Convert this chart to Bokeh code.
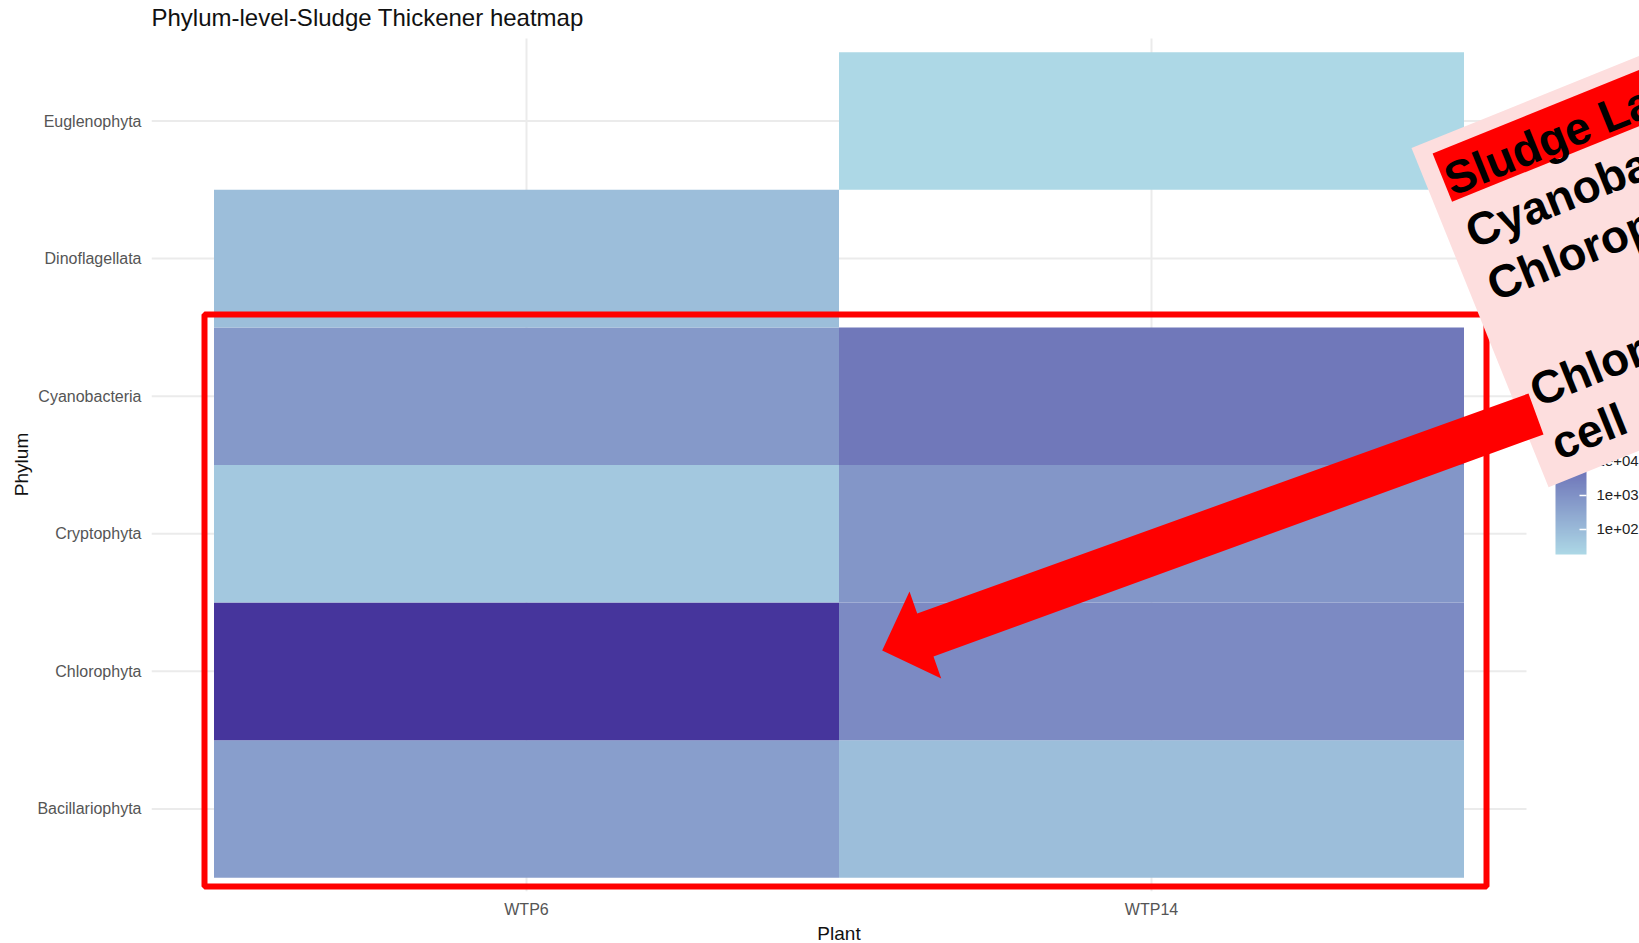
import math
from bokeh.plotting import figure
from bokeh.models import (Range1d, LogColorMapper, ColorBar, FixedTicker,
                          PolyAnnotation, Label, ColumnDataSource, Title)
from bokeh.embed import file_html
from bokeh.resources import INLINE

# ---------------- data ----------------
plants = ["WTP6", "WTP14"]
phyla = ["Bacillariophyta", "Chlorophyta", "Cryptophyta",
         "Cyanobacteria", "Dinoflagellata", "Euglenophyta"]

cell_plant = ["WTP6", "WTP14", "WTP6", "WTP14", "WTP6",
              "WTP14", "WTP6", "WTP14", "WTP6", "WTP14"]
cell_phylum = ["Bacillariophyta", "Bacillariophyta", "Chlorophyta", "Chlorophyta",
               "Cryptophyta", "Cryptophyta", "Cyanobacteria", "Cyanobacteria",
               "Dinoflagellata", "Euglenophyta"]
cell_count = [500, 80, 190000, 1520, 45, 800, 660, 4250, 80, 18]

legend_ticks = [100, 1000, 10000, 100000]
legend_labels = ["1e+02", "1e+03", "1e+04", "1e+05"]

title_text = "Phylum-level-Sludge Thickener heatmap"
x_title = "Plant"
y_title = "Phylum"
note_lines = ["Sludge Lagoon", "Cyanobacteria and", "Chlorophyta dominate", "",
              "Chlorophyta highest", "cell"]

# ---------------- layout / style ----------------
W, H = 1639, 943
FL, FB = 151, 892                 # frame left / bottom (page px); frame runs to right & top edges
PANEL_R, PANEL_T = 1526, 38       # heatmap panel right / top edges (page px)
PANEL_X = (-0.1, len(plants) + 0.1)   # panel limits (0.6 expansion round the factors)
PANEL_Y = (-0.1, len(phyla) + 0.1)
x_end = PANEL_X[1] + (W - PANEL_R) * (PANEL_X[1] - PANEL_X[0]) / (PANEL_R - FL)
y_end = PANEL_Y[1] + PANEL_T * (PANEL_Y[1] - PANEL_Y[0]) / (FB - PANEL_T)

LOW_C, HIGH_C = (173, 216, 230), (70, 53, 156)
pal = ["#%02x%02x%02x" % tuple(int(round(a + (b - a) * i / 255)) for a, b in zip(LOW_C, HIGH_C))
       for i in range(256)]
FONT = "Liberation Sans"
GRID = "#EBEBEB"

mapper = LogColorMapper(palette=pal, low=min(cell_count), high=max(cell_count))
src = ColumnDataSource(dict(xpos=[plants.index(v) + 0.5 for v in cell_plant],
                            ypos=[phyla.index(v) + 0.5 for v in cell_phylum],
                            plant=cell_plant, phylum=cell_phylum, count=cell_count))

p = figure(x_range=Range1d(PANEL_X[0], x_end), y_range=Range1d(PANEL_Y[0], y_end),
           title=None, width=W, height=H, output_backend="svg", toolbar_location=None,
           min_border_left=FL, min_border_right=0, min_border_top=0, min_border_bottom=H - FB)

# grid lines, limited to the heatmap panel
p.xgrid.visible = False
p.ygrid.visible = False
xc = [i + 0.5 for i in range(len(plants))]
yc = [i + 0.5 for i in range(len(phyla))]
p.segment(x0=PANEL_X[0], x1=PANEL_X[1], y0=yc, y1=yc,
          line_color=GRID, line_width=2, level="underlay")
p.segment(x0=xc, x1=xc, y0=PANEL_Y[0], y1=PANEL_Y[1],
          line_color=GRID, line_width=2, level="underlay")

p.rect(x="xpos", y="ypos", width=1, height=1, source=src,
       fill_color={"field": "count", "transform": mapper}, line_color=None)

p.xaxis.ticker = FixedTicker(ticks=xc)
p.xaxis.major_label_overrides = {c: v for c, v in zip(xc, plants)}
p.yaxis.ticker = FixedTicker(ticks=yc)
p.yaxis.major_label_overrides = {c: v for c, v in zip(yc, phyla)}

for ax in (p.xaxis[0], p.yaxis[0]):
    ax.axis_line_color = None
    ax.major_tick_line_color = None
    ax.minor_tick_line_color = None
    ax.major_tick_out = 0
    ax.major_tick_in = 0
    ax.major_label_text_font = FONT
    ax.major_label_text_font_size = "16px"
    ax.major_label_text_color = "#555555"
    ax.axis_label_standoff = 0
p.xaxis.major_label_standoff = 9
p.xaxis.major_label_text_line_height = 0.9
p.yaxis.major_label_standoff = 10

# axis titles centred on the heatmap panel (not on the wider frame)
x_title_px = 43.3
p.add_layout(Title(text=x_title, align="left",
                   offset=(FL + PANEL_R) / 2 - FL - x_title_px / 2,
                   text_font=FONT, text_font_size="19px", text_font_style="normal",
                   text_color="#111111", standoff=0, text_line_height=1.0), "below")
y_title_px = 63.3
p.add_layout(Title(text=y_title, align="left",
                   offset=FB - (PANEL_T + FB) / 2 - y_title_px / 2,
                   text_font=FONT, text_font_size="19px", text_font_style="normal",
                   text_color="#111111", standoff=5), "left")

p.outline_line_color = None

# ---------------- colour bar ----------------
cb = ColorBar(color_mapper=mapper, ticker=FixedTicker(ticks=legend_ticks),
              major_label_overrides=dict(zip(legend_ticks, legend_labels)),
              location=(1555 - FL, FB - 555), width=31, height=137, padding=0,
              label_standoff=10, major_tick_in=7, major_tick_out=0,
              major_tick_line_color="white", major_tick_line_width=1.5,
              bar_line_color=None, border_line_color=None, background_fill_alpha=0,
              major_label_text_font=FONT, major_label_text_font_size="15px",
              major_label_text_color="#222222")
p.add_layout(cb)

# ---------------- texts and overlay (page pixels -> frame screen units) ----------------
def sx(X):
    return X - FL

def sy(Y):
    return FB - Y

p.add_layout(Label(x=sx(151), y=sy(17.5), x_units="screen", y_units="screen",
                   text=title_text, text_font=FONT, text_font_size="24px",
                   text_color="#111111", text_align="left", text_baseline="alphabetic"))

def poly(pts, **kw):
    return PolyAnnotation(xs=[sx(a) for a, b in pts], ys=[sy(b) for a, b in pts],
                          xs_units="screen", ys_units="screen", **kw)

# red highlight rectangle
rect_pts = [(204, 315), (1486, 315), (1486, 887), (204, 887)]
p.add_layout(poly(rect_pts, fill_alpha=0, line_color="#FF0000", line_alpha=1, line_width=6))

# rotated pink note
th = math.radians(22)
u = (math.cos(th), -math.sin(th))
n = (math.sin(th), math.cos(th))
A = (1411.0, 148.5)

def at(al, nd):
    return (A[0] + al * u[0] + nd * n[0], A[1] + al * u[1] + nd * n[1])

p.add_layout(poly([at(0, 0), at(800, 0), at(800, 366), at(0, 366)],
                  fill_color="#FDDEDE", fill_alpha=1, line_color=None))
p.add_layout(poly([at(17.5, 13), at(800, 13), at(800, 65), at(17.5, 65)],
                  fill_color="#FF0000", fill_alpha=1, line_color=None))

# red arrow
arrow_pts = [(881.7, 651), (909, 592), (916.7, 614), (1528, 394),
             (1543, 435), (933, 657), (940.7, 679)]
p.add_layout(poly(arrow_pts, fill_color="#FF0000", fill_alpha=1, line_color=None))

for k, line in enumerate(note_lines):
    if not line:
        continue
    X, Y = at(20, 44 + 57 * k)
    p.add_layout(Label(x=sx(X), y=sy(Y), x_units="screen", y_units="screen", text=line,
                       angle=th, text_font=FONT, text_font_size="46px",
                       text_font_style="bold", text_color="black",
                       text_align="left", text_baseline="alphabetic"))

open("out.html", "w").write(file_html(p, INLINE))
